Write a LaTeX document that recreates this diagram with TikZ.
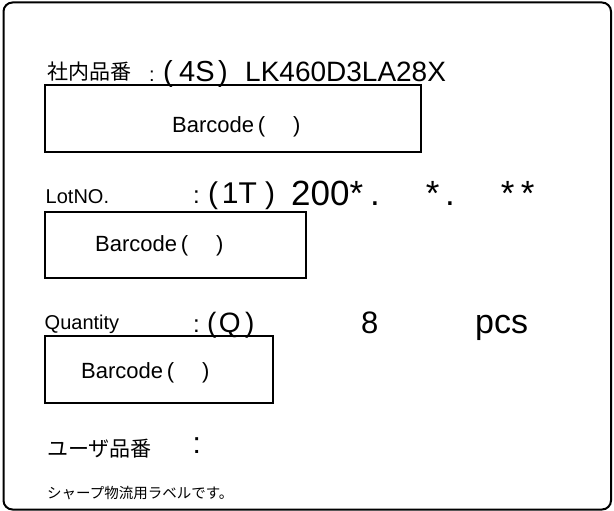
\documentclass[tikz,border=0pt]{standalone}
\usepackage{fontspec}
\setmainfont{Liberation Sans}
\newfontfamily\jpfont{Noto Sans CJK JP}

\begin{document}
\begin{tikzpicture}[x=1pt, y=-1pt,
  lbl/.style={anchor=base west, inner sep=0pt, font=\fontsize{#1}{#1}\selectfont},
  jlbl/.style={anchor=base west, inner sep=0pt, font=\jpfont\fontsize{#1}{#1}\selectfont},
  barbox/.style={line width=1.3pt},
  outer/.style={line width=2pt, rounded corners=9pt}]

\useasboundingbox (0,0) rectangle (614,511);

%label frame
\draw[outer] (3.5,2.5) rectangle (611,509.5);

%barcode boxes
\foreach \l/\t/\r/\b/\tx/\ty/\n in {45/85/421/152/172/132.5/a, 45/212/306/278/95/251/b, 45/336/273/403/81/378/c}
{
\draw[barbox] (\l,\t) rectangle (\r,\b);
\node[lbl=22] (bar\n) at (\tx,\ty) {Barcode\,(\hspace{28pt})};
}

%row 1
\node[jlbl=21] (partlbl) at (47,80) {社内品番};
\node[lbl=20] (partcol) at (149,82) {:};
\node[lbl=29] (partid) at (163,82) {(\kern6.4pt 4S\kern3.4pt)};
\node[lbl=28] (partno) at (245,82) {LK460D3LA28X};

%row 2
\node[lbl=20] (lotlbl) at (45.5,204) {LotNO.};
\node[lbl=24] (lotcol) at (193,204) {:};
\node[lbl=30] (lotid) at (208,204) {(\kern3.7pt 1T\kern8.2pt)};
\node[lbl=35] (lotno) at (291,205) {200*\hspace{7pt}.\hspace{46pt}*\hspace{5.6pt}.\hspace{46pt}*\hspace{6.4pt}*};

%row 3
\node[lbl=20] (qtylbl) at (44.5,329) {Quantity};
\node[lbl=24] (qtycol) at (193,332) {:};
\node[lbl=28] (qtyid) at (207,332) {(\kern2.3pt Q\kern4.6pt)};
\node[lbl=31] (qtyno) at (361,333) {8};
\node[lbl=34] (qtyunit) at (475,333) {pcs};

%row 4
\node[jlbl=21] (userlbl) at (47,456) {ユーザ品番};
\node[lbl=30] (usercol) at (192.5,453) {:};

%footer
\node[jlbl=14.5] (note) at (47,498) {シャープ物流用ラベルです。};

\end{tikzpicture}
\end{document}
